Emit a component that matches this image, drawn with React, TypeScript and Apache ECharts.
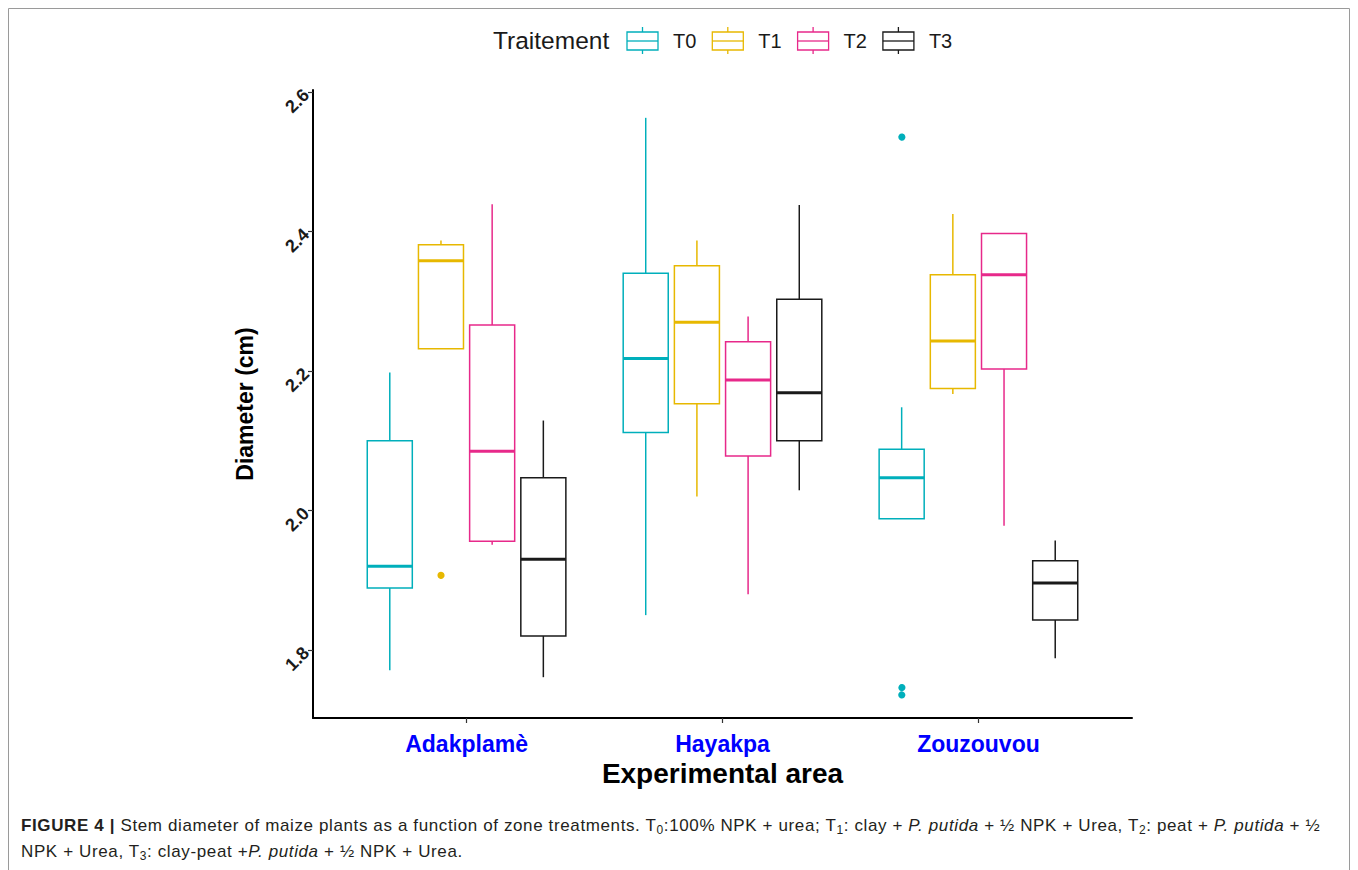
import React, { useEffect, useRef } from "react";
import * as echarts from "echarts";

// ---- data ----
const categories = ["Adakplamè", "Hayakpa", "Zouzouvou"];
const treatments = ["T0", "T1", "T2", "T3"];
const colors = ["#00AFBB", "#E7B800", "#E7298A", "#1A1A1A"];
const yTicks = [1.8, 2.0, 2.2, 2.4, 2.6];

// per area: [low whisker, Q1, median, Q3, high whisker]
const t0Stats = [
  [1.771, 1.889, 1.92, 2.1, 2.198],
  [1.85, 2.112, 2.218, 2.34, 2.563],
  [1.988, 1.988, 2.047, 2.088, 2.148],
];
const t1Stats = [
  [2.232, 2.232, 2.358, 2.381, 2.387],
  [2.02, 2.153, 2.27, 2.351, 2.387],
  [2.167, 2.175, 2.243, 2.338, 2.425],
];
const t2Stats = [
  [1.951, 1.956, 2.085, 2.266, 2.439],
  [1.88, 2.078, 2.187, 2.242, 2.278],
  [1.978, 2.203, 2.338, 2.397, 2.397],
];
const t3Stats = [
  [1.761, 1.82, 1.93, 2.047, 2.129],
  [2.029, 2.1, 2.169, 2.303, 2.438],
  [1.788, 1.843, 1.896, 1.928, 1.957],
];
const t0Outliers = [[], [], [2.537, 1.748, 1.737]];
const t1Outliers = [[1.908], [], []];
const t2Outliers = [[], [], []];
const t3Outliers = [[], [], []];

const allStats = [t0Stats, t1Stats, t2Stats, t3Stats];
const allOutliers = [t0Outliers, t1Outliers, t2Outliers, t3Outliers];

const DODGE = 0.2;
const BOX_W = 0.176;

function boxRenderer(k: number) {
  return (params: any, api: any) => {
    const c = api.value(0);
    const x = c + (k - 1.5) * DODGE;
    const low = api.value(1),
      q1 = api.value(2),
      med = api.value(3),
      q3 = api.value(4),
      high = api.value(5);
    const pLow = api.coord([x, low]);
    const pQ1 = api.coord([x, q1]);
    const pQ3 = api.coord([x, q3]);
    const pHigh = api.coord([x, high]);
    const tl = api.coord([x - BOX_W / 2, q3]);
    const br = api.coord([x + BOX_W / 2, q1]);
    const ml = api.coord([x - BOX_W / 2, med]);
    const mr = api.coord([x + BOX_W / 2, med]);
    const stroke = colors[k];
    return {
      type: "group",
      children: [
        {
          type: "line",
          shape: { x1: pHigh[0], y1: pHigh[1], x2: pQ3[0], y2: pQ3[1] },
          style: { stroke, lineWidth: 1.5 },
        },
        {
          type: "line",
          shape: { x1: pQ1[0], y1: pQ1[1], x2: pLow[0], y2: pLow[1] },
          style: { stroke, lineWidth: 1.5 },
        },
        {
          type: "rect",
          shape: { x: tl[0], y: tl[1], width: br[0] - tl[0], height: br[1] - tl[1] },
          style: { fill: "none", stroke, lineWidth: 1.5 },
        },
        {
          type: "line",
          shape: { x1: ml[0], y1: ml[1], x2: mr[0], y2: mr[1] },
          style: { stroke, lineWidth: 3 },
        },
      ],
    };
  };
}

function outlierRenderer(k: number) {
  return (params: any, api: any) => {
    const x = api.value(0) + (k - 1.5) * DODGE;
    const p = api.coord([x, api.value(1)]);
    return {
      type: "circle",
      shape: { cx: p[0], cy: p[1], r: 3.6 },
      style: { fill: colors[k] },
    };
  };
}

export default function App() {
  const ref = useRef<HTMLDivElement>(null);
  useEffect(() => {
    document.body.style.margin = "0";
    document.body.style.overflow = "hidden";
    if (!ref.current) return;
    const chart = echarts.init(ref.current, null, { renderer: "svg" });

    const series: any[] = [];
    treatments.forEach((t, k) => {
      series.push({
        type: "custom",
        name: t,
        renderItem: boxRenderer(k),
        encode: { x: 0, y: [1, 2, 3, 4, 5] },
        data: allStats[k].map((s, i) => [i + 1, ...s]),
        clip: false,
      });
      const od: number[][] = [];
      allOutliers[k].forEach((vals, i) => vals.forEach((v) => od.push([i + 1, v])));
      if (od.length) {
        series.push({
          type: "custom",
          name: t + " outliers",
          renderItem: outlierRenderer(k),
          encode: { x: 0, y: 1 },
          data: od,
          clip: false,
        });
      }
    });

    const font = "Liberation Sans";
    const legendEls: any[] = [
      {
        type: "text",
        left: 493,
        top: 28,
        style: { text: "Traitement", font: `24.5px '${font}'`, fill: "#1a1a1a" },
      },
    ];
    treatments.forEach((t, k) => {
      const kx = 627 + k * 85.3;
      const cx = kx + 15.5;
      legendEls.push(
        { type: "line", shape: { x1: cx, y1: 27, x2: cx, y2: 32 }, style: { stroke: colors[k], lineWidth: 1.3 } },
        { type: "line", shape: { x1: cx, y1: 50, x2: cx, y2: 54 }, style: { stroke: colors[k], lineWidth: 1.3 } },
        { type: "rect", shape: { x: kx, y: 32, width: 31, height: 18 }, style: { fill: "none", stroke: colors[k], lineWidth: 1.3 } },
        { type: "line", shape: { x1: kx, y1: 41, x2: kx + 31, y2: 41 }, style: { stroke: colors[k], lineWidth: 1.3 } },
        {
          type: "text",
          x: kx + 46,
          y: 41,
          style: { text: t, font: `20px '${font}'`, fill: "#1a1a1a", verticalAlign: "middle" },
        }
      );
    });
    legendEls.push({
      type: "polyline",
      shape: { points: [[8.5, 870], [8.5, 8.5], [1349.5, 8.5], [1349.5, 870]] },
      style: { stroke: "#9a9a9a", lineWidth: 1, fill: "none" },
    });

    chart.setOption({
      animation: false,
      backgroundColor: "#ffffff",
      grid: { left: 313, right: 226, top: 90, bottom: 152 },
      xAxis: {
        type: "value",
        min: 0.4,
        max: 3.6,
        name: "Experimental area",
        nameLocation: "middle",
        nameGap: 37,
        nameTextStyle: { fontFamily: font, fontWeight: "bold", fontSize: 28, color: "#000" },
        axisLine: { lineStyle: { color: "#000", width: 2 } },
        axisTick: { show: true, customValues: [1, 2, 3], length: 5, lineStyle: { color: "#333", width: 1.2 } },
        axisLabel: {
          customValues: [1, 2, 3],
          formatter: (v: number) => categories[Math.round(v) - 1] ?? "",
          fontFamily: font,
          fontWeight: "bold",
          fontSize: 23,
          color: "#0000FF",
          margin: 14,
        },
        splitLine: { show: false },
      },
      yAxis: {
        type: "value",
        min: 1.7025,
        max: 2.6029,
        name: "Diameter (cm)",
        nameLocation: "middle",
        nameGap: 57,
        nameTextStyle: { fontFamily: font, fontWeight: "bold", fontSize: 23, color: "#000" },
        axisLine: { show: true, lineStyle: { color: "#000", width: 2 } },
        axisTick: { show: true, customValues: yTicks, length: 5, lineStyle: { color: "#333", width: 1.2 } },
        axisLabel: {
          customValues: yTicks,
          formatter: (v: number) => v.toFixed(1),
          rotate: 45,
          fontFamily: font,
          fontWeight: "bold",
          fontSize: 18,
          color: "#1a1a1a",
          margin: 7,
        },
        splitLine: { show: false },
      },
      graphic: legendEls,
      series,
    });
    return () => chart.dispose();
  }, []);

  const capStyle: React.CSSProperties = {
    position: "absolute",
    left: 21,
    top: 813,
    fontFamily: "'Liberation Sans', Arial, sans-serif",
    fontSize: 17,
    letterSpacing: "0.62px",
    lineHeight: "26px",
    color: "#231f20",
    whiteSpace: "nowrap",
  };
  const sub: React.CSSProperties = { fontSize: "12px", verticalAlign: "-3px", lineHeight: 0 };
  return (
    <div style={{ position: "relative", width: 1358, height: 870 }}>
      <div ref={ref} style={{ position: "absolute", left: 0, top: 0, width: 1358, height: 870 }} />
      <div style={capStyle}>
        <b>FIGURE 4 |</b> Stem diameter of maize plants as a function of zone treatments. T
        <span style={sub}>0</span>:100% NPK + urea; T<span style={sub}>1</span>: clay + <i>P. putida</i> + ½ NPK +
        Urea, T<span style={sub}>2</span>: peat + <i>P. putida</i> + ½
        <br />
        NPK + Urea, T<span style={sub}>3</span>: clay-peat +<i>P. putida</i> + ½ NPK + Urea.
      </div>
    </div>
  );
}
